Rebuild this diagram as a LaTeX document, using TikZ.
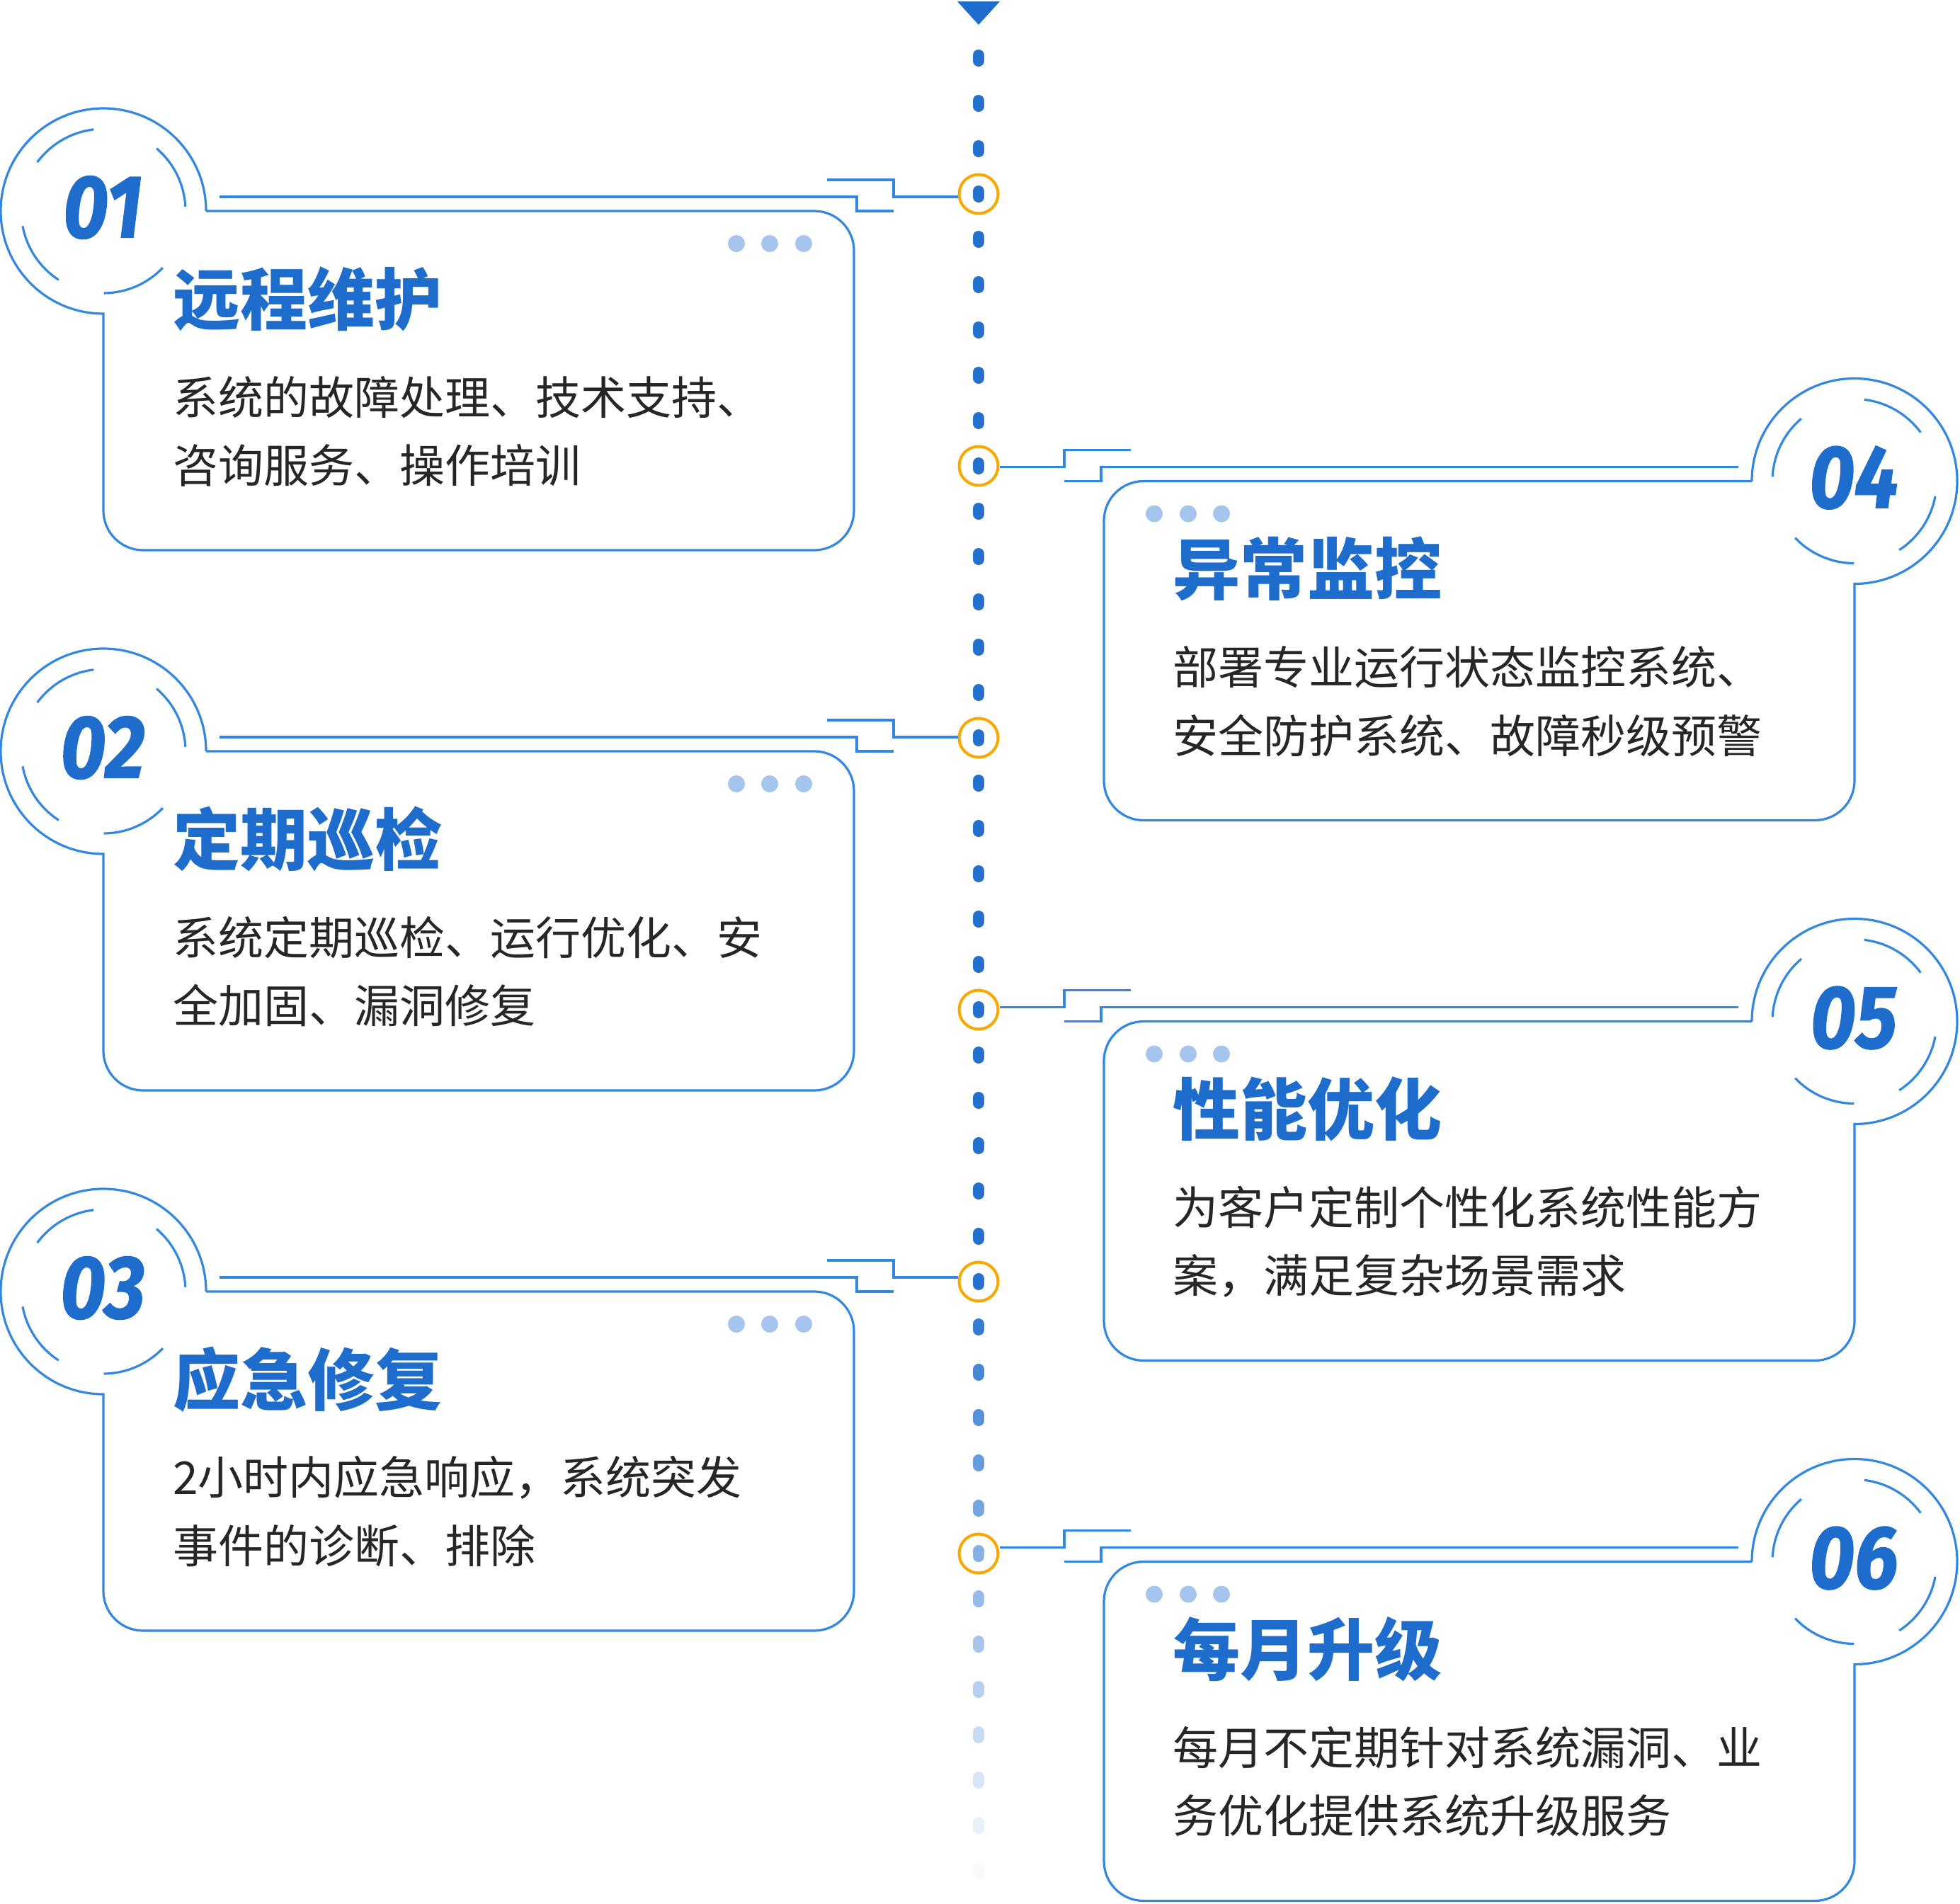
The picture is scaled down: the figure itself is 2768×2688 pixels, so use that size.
\documentclass[tikz,border=0pt]{standalone}
\usepackage{fontspec}
\usepackage{graphicx}
\newfontfamily\cjk{Noto Sans CJK SC}
\newfontfamily\numfont{Fira Sans}[BoldItalicFeatures={FakeBold=1.2}]
\definecolor{lineblue}{RGB}{52,135,224}
\definecolor{titleblue}{RGB}{30,108,204}
\definecolor{dashblue}{RGB}{35,112,207}
\definecolor{dotblue}{RGB}{166,197,237}
\definecolor{ringorange}{RGB}{250,168,0}
\definecolor{bodygray}{RGB}{38,38,38}
\tikzset{
  blueline/.style={draw=lineblue, line width=3.2pt},
  ringnode/.style={circle, draw=ringorange, line width=4pt, minimum size=55pt, inner sep=0pt},
  dotnode/.style={circle, fill=dotblue, minimum size=24pt, inner sep=0pt},
  titletext/.style={anchor=west, inner sep=0pt, text=titleblue, font=\cjk\bfseries\fontsize{95}{100}\selectfont},
  bodytext/.style={anchor=west, inner sep=0pt, text=bodygray, font=\cjk\fontsize{64}{70}\selectfont},
  numtext/.style={inner sep=0pt, text=titleblue, font=\numfont\bfseries\itshape\fontsize{126}{130}\selectfont},
  tldash/.style={draw=dashblue, line width=16pt, line cap=round},
}
% left card: #1 index, #2 number, #3 title, #4 line 1, #5 line 2
\newcommand{\leftcard}[5]{%
  \pgfmathsetmacro\ty{298+381.5*#1}%
  \pgfmathsetmacro\by{\ty+479}%
  \pgfmathsetmacro\ly{\ty-20}%
  \pgfmathsetmacro\uy{\ty-44}%
  \pgfmathsetmacro\cy{274+384*#1}%
  \node[ringnode] (ring#2) at (1382,\cy) {};
  \draw[blueline] (291,\ty) -- (1150,\ty) arc[start angle=270,end angle=360,radius=56]
    -- (1206,\by-56) arc[start angle=0,end angle=90,radius=56]
    -- (202,\by) arc[start angle=90,end angle=180,radius=56]
    -- (146,\ty+145) arc[start angle=90,end angle=360,radius=145];
  \foreach \a/\b in {43.7/89.7,123/169.4,216.4/263.2,310.4/356.9}
    \draw[blueline] (146,\ty) ++(\a:116) arc[start angle=\a,end angle=\b,radius=116];
  \coordinate (ca#2) at (1262,\ly);
  \draw[blueline] (1168,\uy) -- (1262,\uy) -- (ca#2) -- (ca#2 -| ring#2.west);
  \draw[blueline] (310,\ly) -- (1210,\ly) -- (1210,\ty) -- (1262,\ty);
  \node[dotnode] (da#2) at (1040,\ty+46) {};
  \node[dotnode] (db#2) at (1087,\ty+46) {};
  \node[dotnode] (dc#2) at (1135,\ty+46) {};
  \node[numtext] (num#2) at (145,\ty-5) {\scalebox{0.88}[1]{#2}};
  \node[titletext] (title#2) at (244,\ty+124) {#3};
  \node[bodytext] (la#2) at (244,\ty+263) {#4};
  \node[bodytext] (lb#2) at (244,\ty+359) {#5};
}
\newcommand{\rightcard}[5]{%
  \pgfmathsetmacro\ty{298+381.5*#1}%
  \pgfmathsetmacro\by{\ty+479}%
  \pgfmathsetmacro\ly{\ty-20}%
  \pgfmathsetmacro\uy{\ty-44}%
  \pgfmathsetmacro\cy{274+384*#1}%
  \node[ringnode] (ring#2) at (1382,\cy) {};
  \draw[blueline] (2474,\ty) -- (1615,\ty) arc[start angle=270,end angle=180,radius=56]
    -- (1559,\by-56) arc[start angle=180,end angle=90,radius=56]
    -- (2563,\by) arc[start angle=90,end angle=0,radius=56]
    -- (2619,\ty+145) arc[start angle=90,end angle=-180,radius=145];
  \foreach \a/\b in {43.7/89.7,123/169.4,216.4/263.2,310.4/356.9}
    \draw[blueline] (2619,\ty) ++(180-\a:116) arc[start angle=180-\a,end angle=180-\b,radius=116];
  \coordinate (ca#2) at (1503,\ly);
  \draw[blueline] (1597,\uy) -- (1503,\uy) -- (ca#2) -- (ca#2 -| ring#2.east);
  \draw[blueline] (2455,\ly) -- (1555,\ly) -- (1555,\ty) -- (1503,\ty);
  \node[dotnode] (da#2) at (1630,\ty+46) {};
  \node[dotnode] (db#2) at (1678,\ty+46) {};
  \node[dotnode] (dc#2) at (1725,\ty+46) {};
  \node[numtext] (num#2) at (2618,\ty-5) {\scalebox{0.88}[1]{#2}};
  \node[titletext] (title#2) at (1656,\ty+124) {#3};
  \node[bodytext] (la#2) at (1656,\ty+263) {#4};
  \node[bodytext] (lb#2) at (1656,\ty+359) {#5};
}
\begin{document}
\begin{tikzpicture}[x=1pt,y=-1pt]
\useasboundingbox[fill=white] (0,0) rectangle (2768,2688);
% arrow head of the time line
\fill[titleblue] (1352,2) -- (1412,2) -- (1382,35) -- cycle;
% dashed, fading time line
\foreach \i in {-3,...,37} {
  \pgfmathsetmacro\yy{274+64*\i}
  \pgfmathsetmacro\op{min(1,max(0.03,1-(\yy-1800)/842*0.97))}
  \draw[tldash, draw opacity=\op] (1382,\yy-4) -- (1382,\yy+4);
}
\leftcard{0}{01}{远程维护}{系统的故障处理、技术支持、}{咨询服务、操作培训}
\rightcard{1}{04}{异常监控}{部署专业运行状态监控系统、}{安全防护系统、故障秒级预警}
\leftcard{2}{02}{定期巡检}{系统定期巡检、运行优化、安}{全加固、漏洞修复}
\rightcard{3}{05}{性能优化}{为客户定制个性化系统性能方}{案，满足复杂场景需求}
\leftcard{4}{03}{应急修复}{2小时内应急响应，系统突发}{事件的诊断、排除}
\rightcard{5}{06}{每月升级}{每月不定期针对系统漏洞、业}{务优化提供系统升级服务}
\end{tikzpicture}
\end{document}
